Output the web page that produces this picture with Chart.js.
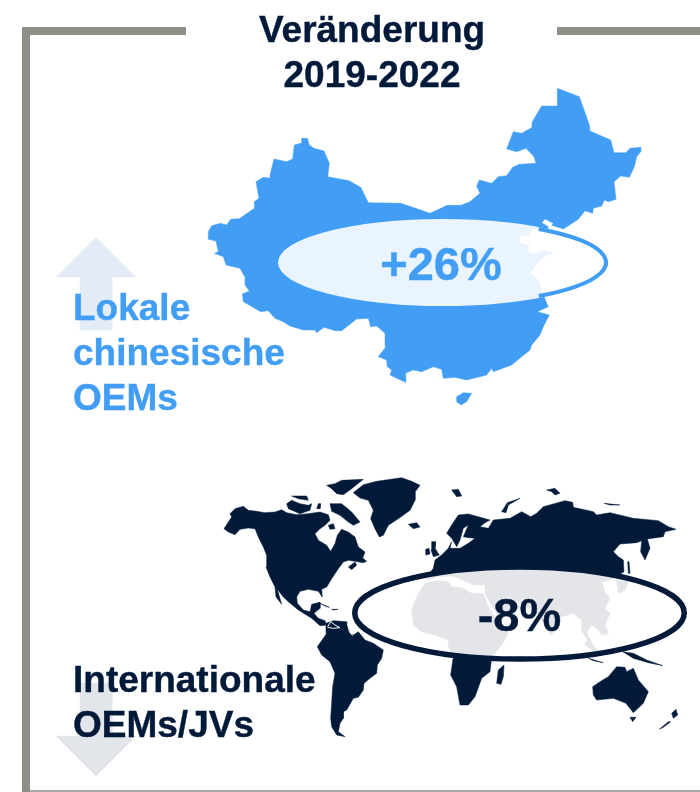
<!DOCTYPE html>
<html lang="de">
<head>
<meta charset="utf-8">
<title>Veränderung 2019-2022</title>
<script src="https://cdn.jsdelivr.net/npm/chart.js@4/dist/chart.umd.min.js"></script>
<style>
  html, body { margin: 0; padding: 0; background: #fff; }
  canvas { display: block; }
</style>
</head>
<body>
<canvas id="mapChart" width="700" height="792"></canvas>
<script>
// Werte aus der Grafik
const segments = ['Lokale chinesische OEMs', 'Internationale OEMs/JVs'];
const changes = [26, -8];
const titleLines = ['Veränderung', '2019-2022'];
const localLines = ['Lokale', 'chinesische', 'OEMs'];
const intlLines = ['Internationale', 'OEMs/JVs'];

const chinaOutline = [[305,175],[322,175],[328,195],[342,205],[372,213],[388,250],[383,290],[447,302],[482,322],[505,368],[603,370],[690,400],[742,376],[783,376],[810,365],[840,340],[830,318],[838,300],[875,310],[895,290],[920,287],[938,262],[958,253],[1008,250],[1002,230],[978,205],[950,215],[920,207],[940,155],[965,160],[995,143],[997,125],[1025,78],[1072,78],[1072,25],[1138,50],[1168,135],[1170,153],[1232,180],[1242,218],[1278,218],[1290,205],[1322,202],[1322,215],[1310,230],[1303,260],[1288,292],[1262,288],[1242,305],[1248,358],[1225,365],[1213,360],[1205,378],[1180,385],[1178,400],[1155,392],[1135,418],[1090,447],[1060,437],[1055,437],[1060,430],[1035,417],[1025,428],[1045,440],[1040,458],[1000,445],[985,465],[958,470],[958,488],[985,495],[985,520],[1010,520],[1030,510],[1062,518],[1035,528],[1020,540],[990,580],[1015,600],[1030,645],[1040,670],[1045,680],[1012,695],[1048,705],[1040,720],[1030,740],[1020,765],[995,795],[990,810],[965,830],[935,855],[880,875],[875,865],[860,885],[800,900],[765,892],[730,895],[725,868],[700,860],[665,875],[640,870],[615,880],[617,907],[590,895],[570,885],[575,870],[562,860],[560,840],[535,830],[558,800],[555,760],[530,738],[512,740],[505,715],[470,717],[425,752],[405,752],[372,742],[350,758],[345,750],[310,750],[270,738],[250,725],[225,715],[205,692],[182,695],[130,665],[127,642],[148,633],[135,615],[135,592],[120,565],[78,555],[70,530],[43,520],[55,515],[48,483],[25,478],[25,455],[35,437],[62,430],[80,435],[92,418],[118,416],[163,385],[163,365],[177,355],[168,305],[190,292],[212,295],[210,285],[222,237],[260,245],[278,237],[283,195],[303,190]];
const hainan = [[770,950],[790,938],[815,940],[800,965],[783,975],[770,965]];

const northAmerica = [[30,125],[45,110],[70,103],[85,115],[110,118],[135,122],[165,120],[185,113],[200,122],[230,128],[265,125],[300,120],[325,128],[330,145],[315,160],[300,170],[285,185],[295,205],[320,220],[332,238],[345,215],[352,190],[365,172],[385,180],[405,195],[415,225],[435,240],[428,258],[440,268],[430,272],[405,268],[385,265],[370,270],[355,290],[335,320],[320,345],[305,352],[307,375],[295,358],[265,352],[240,358],[230,375],[232,394],[250,414],[270,419],[275,397],[300,391],[300,409],[282,424],[295,439],[315,446],[320,459],[300,461],[275,439],[235,414],[205,389],[190,375],[172,352],[185,397],[168,375],[165,345],[150,315],[138,285],[140,250],[130,225],[115,195],[105,170],[85,168],[60,172],[45,188],[25,180],[12,170],[25,150],[35,135]];
const arcticIslands = [
  [[200,95],[215,85],[240,95],[265,100],[275,95],[270,115],[240,125],[205,110]],
  [[215,72],[260,72],[265,85],[235,80]],
  [[330,95],[365,95],[395,120],[420,150],[400,160],[385,150],[360,130],[335,118]],
  [[320,40],[345,35],[365,25],[430,22],[395,50],[370,68],[350,65],[335,50]],
  [[295,95],[302,95],[300,110],[290,110]],
  [[325,160],[340,155],[345,170],[330,172]],
  [[385,285],[405,270],[410,280],[395,293]]
];
const greenland = [[400,62],[430,38],[470,28],[545,17],[575,28],[600,40],[585,60],[585,85],[570,115],[535,140],[505,160],[490,190],[478,195],[465,170],[452,140],[460,115],[445,85],[420,78]];
const iceland = [[565,157],[590,152],[600,165],[580,170]];

const southAmerica = [[108,100],[130,92],[170,95],[180,130],[190,135],[205,125],[225,150],[250,160],[280,180],[275,205],[262,225],[260,250],[240,265],[222,280],[220,300],[205,322],[190,325],[170,360],[160,365],[160,385],[150,400],[145,425],[165,440],[140,435],[125,410],[122,385],[125,340],[128,290],[135,250],[120,215],[95,195],[82,170],[100,145],[110,130]];
const caribbean = [[[85,38],[118,52],[110,50]],[[125,58],[145,58],[130,60]]];
const venezuelaCoast = [[[113,110],[122,95],[135,105],[150,113],[130,115],[113,112]],[[172,100],[178,125],[188,137]]];

const eurasia = [[100,295],[105,270],[125,255],[145,235],[155,215],[150,235],[180,235],[205,220],[225,205],[205,203],[190,200],[205,165],[190,175],[180,210],[170,230],[155,205],[140,190],[155,165],[175,135],[205,132],[235,140],[270,150],[255,158],[240,170],[265,175],[280,150],[330,145],[365,125],[392,140],[410,130],[430,110],[495,92],[518,97],[520,112],[580,125],[590,135],[630,128],[700,145],[775,152],[805,170],[828,178],[795,185],[790,200],[742,207],[750,235],[735,270],[722,245],[725,212],[710,218],[660,222],[640,245],[655,260],[670,270],[672,305],[630,330],[605,335],[615,365],[630,385],[615,415],[630,430],[615,465],[625,490],[605,495],[590,475],[575,465],[560,490],[580,525],[570,520],[545,485],[545,450],[520,430],[485,440],[455,495],[440,480],[420,440],[395,420],[350,395],[322,378],[340,392],[362,412],[310,440],[295,437],[255,372],[255,345],[220,345],[165,320],[150,318],[115,320],[80,330],[85,315]];
const africa = [[75,340],[110,332],[145,335],[155,350],[190,355],[215,370],[250,370],[265,410],[285,440],[300,475],[325,490],[305,525],[280,555],[275,560],[270,605],[245,625],[225,680],[205,705],[180,705],[170,650],[152,615],[160,560],[145,530],[145,510],[105,495],[65,485],[40,465],[35,420],[50,380]];
const worldIslands = [
  [[295,600],[312,585],[310,620],[303,643],[290,640]],
  [[305,125],[322,98],[360,85],[325,105],[318,128]],
  [[155,60],[175,58],[185,78],[170,80]],
  [[440,60],[465,55],[480,70],[465,75],[455,65]],
  [[612,100],[660,105],[630,105]],
  [[95,215],[107,215],[105,235],[118,255],[100,260],[93,240]],
  [[77,238],[87,235],[90,252],[77,255]],
  [[650,330],[685,335],[675,360],[655,370]],
  [[560,510],[600,545],[590,550],[555,525]],
  [[668,545],[700,550],[740,570],[788,587],[745,578],[700,565]],
  [[565,565],[600,575],[610,578],[580,572]],
  [[578,650],[600,635],[625,620],[650,590],[675,592],[680,605],[700,595],[715,630],[745,665],[730,700],[700,728],[678,700],[640,685],[590,690],[580,675]],
  [[690,742],[708,742],[698,755]],
  [[815,730],[828,718],[833,735],[820,745]],
  [[778,778],[805,755],[812,755],[790,772]],
  [[683,275],[687,275],[690,310],[685,310]]
];

const upArrow = [[96,237],[136,277],[112,277],[112,330],[80,330],[80,277],[56,277]];
const downArrow = [[80,683],[112,683],[112,736],[136,736],[96,776],[56,736],[80,736]];
const frameLeft = [[186,31],[26,31],[26,792]];
const frameRight = [[557,31],[700,31]];
const frameBottom = [[26,791],[700,791]];

const BLUE = '#429ef5';
const NAVY = '#021a3a';
const GREY = '#8f8f87';
const FONT = '"Liberation Sans", Arial, sans-serif';

// Ausschnitt (3-fach) zurueck auf Seitenkoordinaten
function traced(points, originX, originY) {
    return points.map(p => ({ x: originX + p[0] / 3, y: originY + p[1] / 3 }));
}

function shape(points, color) {
    return {
        data: points.concat([points[0]]),
        showLine: true,
        fill: 'shape',
        backgroundColor: color,
        borderColor: color,
        borderWidth: 0.5,
        pointRadius: 0,
        tension: 0
    };
}

function stroke(points, color, width) {
    return {
        data: points,
        showLine: true,
        fill: false,
        borderColor: color,
        borderWidth: width,
        borderJoinStyle: 'miter',
        borderCapStyle: 'butt',
        pointRadius: 0,
        tension: 0
    };
}

const plainPoints = pts => pts.map(p => ({ x: p[0], y: p[1] }));

const datasets = [
    // weisse Linien liegen oben
    ...venezuelaCoast.map(l => stroke(traced(l, 290, 590), '#ffffff', 1)),
    shape(traced(chinaOutline, 200, 80), BLUE),
    shape(traced(hainan, 200, 80), BLUE),
    shape(traced(northAmerica, 220, 472), NAVY),
    ...arcticIslands.map(s => shape(traced(s, 220, 472), NAVY)),
    shape(traced(greenland, 220, 472), NAVY),
    shape(traced(iceland, 220, 472), NAVY),
    shape(traced(southAmerica, 290, 590), NAVY),
    ...caribbean.map(s => shape(traced(s, 290, 590), NAVY)),
    shape(traced(eurasia, 400, 470), NAVY),
    shape(traced(africa, 400, 470), NAVY),
    ...worldIslands.map(s => shape(traced(s, 400, 470), NAVY)),
    shape(plainPoints(upArrow), '#e3ebf6'),
    shape(plainPoints(downArrow), '#e2e5ea'),
    stroke(plainPoints(frameLeft), GREY, 8),
    stroke(plainPoints(frameRight), GREY, 8),
    stroke(plainPoints(frameBottom), GREY, 1.5)
];

// Ellipsen und Beschriftung
const overlayPlugin = {
    id: 'overlay',
    afterDatasetsDraw(chart) {
        const { ctx, scales } = chart;
        const px = v => scales.x.getPixelForValue(v);
        const py = v => scales.y.getPixelForValue(v);

        function ovalFill(cx, cy, rx, ry) {
            ctx.save();
            ctx.beginPath();
            ctx.ellipse(px(cx), py(cy), rx, ry, 0, 0, Math.PI * 2);
            ctx.fillStyle = 'rgba(255, 255, 255, 0.89)';
            ctx.fill();
            ctx.restore();
        }

        function ovalLine(cx, cy, rx, ry, color, width, from, to) {
            ctx.save();
            ctx.beginPath();
            ctx.ellipse(px(cx), py(cy), rx, ry, 0, from, to);
            ctx.strokeStyle = color;
            ctx.lineWidth = width;
            ctx.stroke();
            ctx.restore();
        }

        function label(text, x, y, size, color, align) {
            ctx.save();
            ctx.font = 'bold ' + size + 'px ' + FONT;
            ctx.fillStyle = color;
            ctx.strokeStyle = color;
            ctx.lineWidth = 0.4;
            ctx.textAlign = align;
            ctx.textBaseline = 'alphabetic';
            ctx.fillText(text, px(x), py(y));
            ctx.strokeText(text, px(x), py(y));
            ctx.restore();
        }

        // China: Rand nur rechts sichtbar, links Blau auf Blau
        ovalFill(443, 262.5, 165, 43.5);
        ovalLine(443, 262.5, 163, 41.5, BLUE, 4, -Math.PI * 0.3, Math.PI * 0.3);

        ovalFill(519.5, 613, 165, 46);
        ovalLine(519.5, 613, 164.75, 46, NAVY, 5.5, 0, Math.PI * 2);

        titleLines.forEach((t, i) => label(t, 372, 42 + i * 45, 37, NAVY, 'center'));
        localLines.forEach((t, i) => label(t, 73, 320 + i * 45, 37, BLUE, 'left'));
        intlLines.forEach((t, i) => label(t, 73, 692 + i * 45, 37, NAVY, 'left'));

        const fmt = v => (v > 0 ? '+' : '') + v + '%';
        label(fmt(changes[0]), 441, 280, 47, BLUE, 'center');
        label(fmt(changes[1]), 519.5, 631, 47, NAVY, 'center');
    }
};

new Chart(document.getElementById('mapChart').getContext('2d'), {
    type: 'scatter',
    data: { datasets: datasets },
    options: {
        responsive: false,
        animation: false,
        events: [],
        layout: { padding: 0 },
        plugins: {
            legend: { display: false },
            title: { display: false },
            tooltip: { enabled: false }
        },
        scales: {
            x: { type: 'linear', min: 0, max: 700, display: false },
            y: { type: 'linear', min: 0, max: 792, reverse: true, display: false }
        }
    },
    plugins: [overlayPlugin]
});
</script>
</body>
</html>
